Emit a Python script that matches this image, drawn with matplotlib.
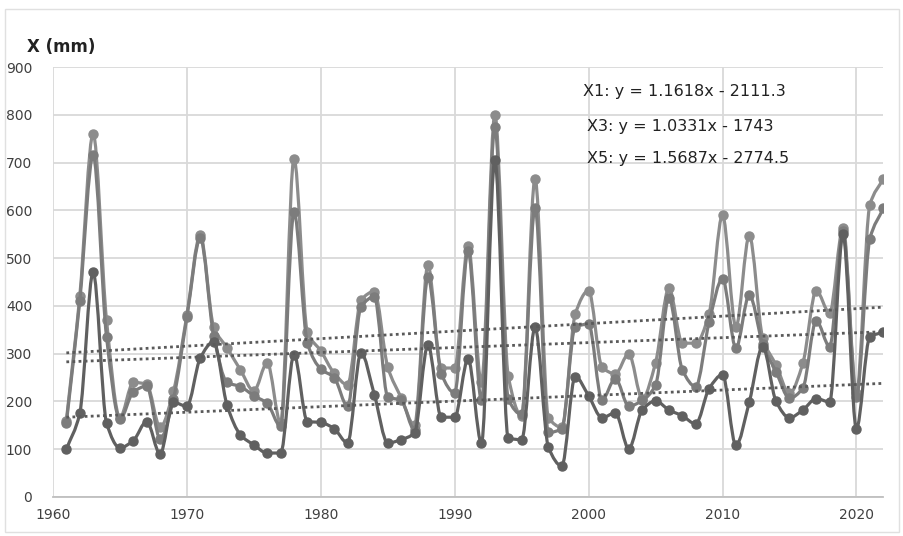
import numpy as np
import matplotlib
matplotlib.use("Agg")
import matplotlib.pyplot as plt
from matplotlib.path import Path
from matplotlib.patches import PathPatch

years = list(range(1961, 2023))

x1 = [100, 175, 470, 155, 103, 118, 158, 90, 198, 190,
      291, 325, 192, 130, 109, 92, 92, 298, 158, 156,
      143, 113, 302, 214, 113, 120, 134, 318, 167, 167,
      289, 113, 705, 123, 120, 355, 104, 65, 252, 212,
      166, 176, 101, 182, 201, 182, 170, 153, 227, 256,
      108, 199, 315, 200, 166, 182, 206, 199, 550, 143,
      335, 345]

x3 = [155, 410, 715, 335, 163, 220, 232, 122, 206, 376,
      542, 338, 240, 231, 212, 196, 148, 596, 322, 268,
      250, 190, 398, 419, 210, 202, 140, 460, 258, 218,
      515, 202, 775, 205, 173, 606, 135, 143, 356, 362,
      203, 248, 190, 202, 234, 417, 266, 231, 366, 457,
      312, 423, 320, 262, 207, 228, 369, 315, 556, 210,
      540, 604]

x5 = [160, 420, 760, 370, 166, 240, 236, 146, 222, 381,
      548, 356, 312, 266, 222, 281, 155, 708, 345, 306,
      259, 235, 412, 430, 272, 208, 150, 485, 270, 270,
      526, 240, 800, 253, 170, 666, 166, 146, 383, 432,
      272, 258, 300, 206, 281, 437, 322, 322, 384, 590,
      356, 547, 333, 276, 217, 280, 432, 385, 564, 217,
      611, 666]

trend_slope = [1.1618, 1.0331, 1.5687]
trend_icpt = [-2111.3, -1743.0, -2774.5]
trend_labels = ["X1: y = 1.1618x - 2111.3",
                "X3: y = 1.0331x - 1743",
                "X5: y = 1.5687x - 2774.5"]


def smooth_path(xs, ys):
    """Smoothed line drawn as cubic Bezier segments through the data points
    (monotone tangents, so the curve never overshoots the markers)."""
    x = np.asarray(xs, float)
    y = np.asarray(ys, float)
    n = len(x)
    h = np.diff(x)
    d = np.diff(y) / h
    m = np.zeros(n)
    m[0], m[-1] = d[0], d[-1]
    for i in range(1, n - 1):
        if d[i - 1] * d[i] > 0:
            w1 = 2 * h[i] + h[i - 1]
            w2 = h[i] + 2 * h[i - 1]
            m[i] = (w1 + w2) / (w1 / d[i - 1] + w2 / d[i])
        else:
            m[i] = 0.0
    verts = [(x[0], y[0])]
    codes = [Path.MOVETO]
    for i in range(n - 1):
        t = h[i] / 3.0
        verts += [(x[i] + t, y[i] + m[i] * t),
                  (x[i + 1] - t, y[i + 1] - m[i + 1] * t),
                  (x[i + 1], y[i + 1])]
        codes += [Path.CURVE4] * 3
    return Path(verts, codes)


fig = plt.figure(figsize=(9.04, 5.36), dpi=100)
fig.patch.set_facecolor("white")
ax = fig.add_axes([0.0586, 0.0728, 0.9184, 0.802])

colors = ["#606060", "#7c7c7c", "#8c8c8c"]
series = [x1, x3, x5]
yr = np.array(years, dtype=float)

for s, c in zip(series[::-1], colors[::-1]):
    patch = PathPatch(smooth_path(years, s), facecolor="none", edgecolor=c,
                      lw=2.3, zorder=3, joinstyle="round", capstyle="round")
    ax.add_patch(patch)
    ax.plot(years, s, ls="none", marker="o", ms=6.5,
            markeredgecolor=c, markerfacecolor=c, zorder=3)

for a, b in zip(trend_slope, trend_icpt):
    ax.plot(yr, a * yr + b, color="#5a5a5a", lw=2.0, ls=(0, (1, 1.2)), zorder=4)

ax.set_xlim(1960, 2022)
ax.set_ylim(0, 900)
ax.set_xticks(range(1960, 2021, 10))
ax.set_yticks(range(0, 901, 100))
ax.grid(True, color="#d9d9d9", lw=1.3)
ax.set_axisbelow(True)
for sp in ["top", "right", "left"]:
    ax.spines[sp].set_visible(False)
ax.spines["bottom"].set_color("#bfbfbf")
ax.spines["bottom"].set_linewidth(1.3)
ax.tick_params(axis="both", length=0, labelsize=10, labelcolor="#404040")
ax.tick_params(axis="y", pad=15)
ax.tick_params(axis="x", pad=8)

fig.text(27 / 904, 1 - 47 / 536, "X (mm)", fontsize=12, fontweight="bold",
         color="#222222", va="center", ha="left")

ty = [92, 127, 158]
tx = [583, 587, 587]
for t, xx, yy in zip(trend_labels, tx, ty):
    fig.text(xx / 904, 1 - yy / 536, t, fontsize=11.5, color="#222222",
             va="center", ha="left")

border = plt.Rectangle((0.006, 0.008), 0.988, 0.975, transform=fig.transFigure,
                       fill=False, edgecolor="#e0e0e0", lw=1.0)
fig.patches.append(border)

fig.savefig("out.png", dpi=100)
